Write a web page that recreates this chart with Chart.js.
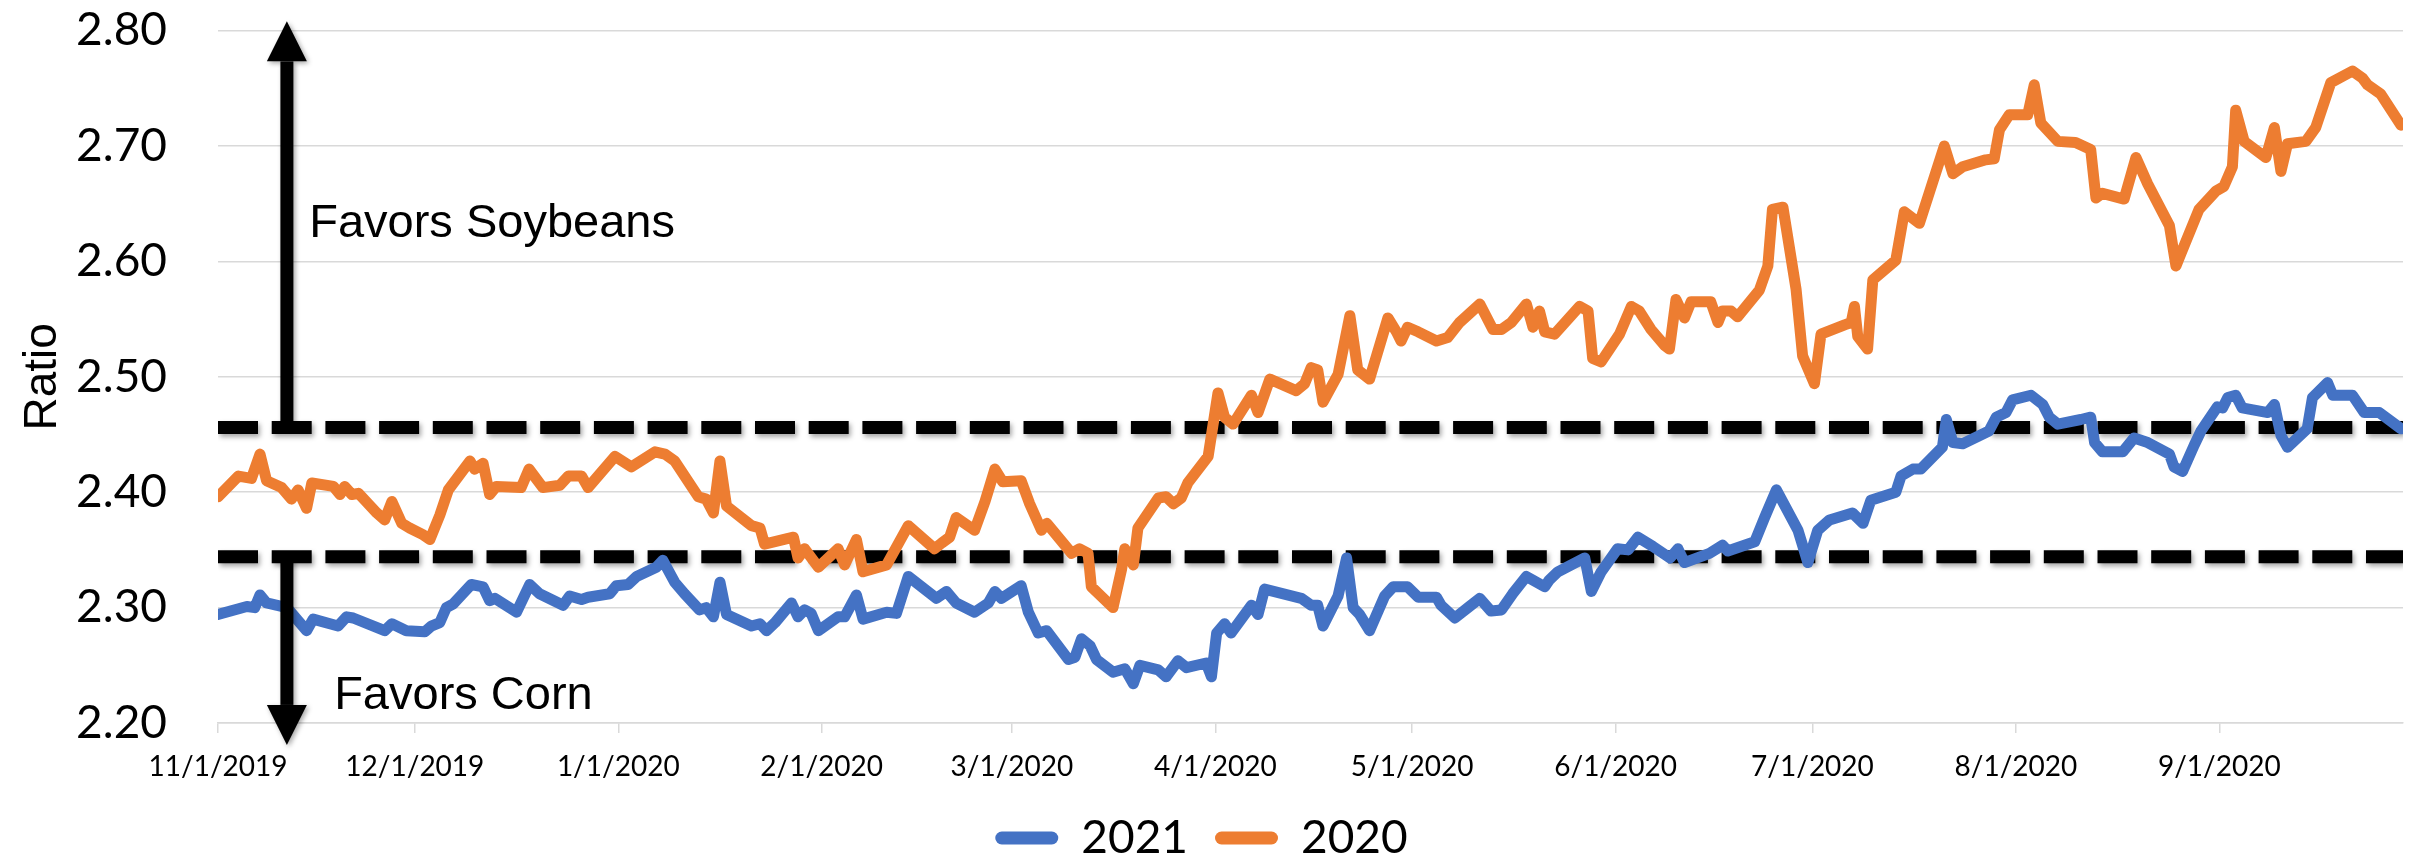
<!DOCTYPE html>
<html>
<head>
<meta charset="utf-8">
<script src="https://cdn.jsdelivr.net/npm/chart.js@4"></script>
<style>
  html, body { margin: 0; padding: 0; background: #fff; }
  #wrap { width: 2425px; height: 860px; }
</style>
</head>
<body>
<div id="wrap"><canvas id="chart" width="2425" height="860"></canvas></div>
<script>
// days counted from 11/1/2019
const monthDays = [0, 30, 61, 92, 121, 152, 182, 213, 243, 274, 305];
const monthLabels = ["11/1/2019", "12/1/2019", "1/1/2020", "2/1/2020", "3/1/2020", "4/1/2020",
    "5/1/2020", "6/1/2020", "7/1/2020", "8/1/2020", "9/1/2020"];

const days2021 = [0, 4.4, 5.6, 6.4, 7.4, 10.5, 12.0, 13.5, 14.5, 18.3, 19.6, 20.6, 25.4, 26.5, 28.7,
    31.5, 32.5, 33.8, 34.8, 35.8, 38.6, 40.4, 41.4, 42.2, 45.5, 47.5, 49.0, 52.6, 53.6, 55.4, 56.4,
    59.7, 60.7, 62.5, 63.8, 66.8, 67.8, 69.6, 71.1, 73.4, 74.4, 75.5, 76.5, 77.5, 81.3, 82.6, 83.6,
    84.9, 87.4, 88.4, 89.4, 90.4, 91.5, 94.5, 95.5, 97.3, 98.3, 101.9, 103.4, 105.2, 109.5, 111.0,
    112.5, 115.3, 117.4, 118.4, 119.4, 122.4, 123.5, 125.0, 126.3, 129.6, 130.6, 131.6, 132.9, 133.9,
    136.4, 138.2, 139.5, 140.5, 143.3, 144.5, 146.3, 147.6, 150.6, 151.4, 152.2, 153.4, 154.4, 157.5,
    158.5, 159.5, 165.1, 166.6, 167.6, 168.4, 170.7, 172.0, 173.0, 174.0, 175.5, 177.8, 179.1, 181.3,
    182.9, 185.7, 186.4, 188.5, 190.5, 192.3, 194.0, 195.6, 197.3, 199.4, 202.2, 202.9, 204.2, 208.3,
    209.3, 210.8, 213.3, 214.9, 216.4, 218.7, 221.3, 222.5, 223.5, 227.3, 229.3, 230.1, 234.2, 235.7,
    237.5, 240.8, 242.3, 243.8, 245.6, 249.1, 250.7, 251.9, 255.7, 256.5, 258.3, 259.5, 262.8, 263.4,
    264.4, 265.9, 269.9, 271.0, 272.5, 273.5, 276.3, 278.1, 279.1, 280.4, 283.9, 285.4, 286.0, 287.2,
    290.3, 292.0, 294.1, 297.4, 298.1, 299.4, 301.2, 302.2, 304.7, 305.5, 306.3, 307.5, 308.5, 312.4,
    313.4, 314.4, 315.4, 318.4, 319.2, 321.5, 322.3, 325.3, 327.1, 329.4, 332.7];
const ratio2021 = [2.294, 2.301, 2.300, 2.311, 2.304, 2.300, 2.290, 2.280, 2.290, 2.284, 2.292, 2.291,
    2.280, 2.286, 2.280, 2.279, 2.284, 2.287, 2.300, 2.303, 2.320, 2.318, 2.306, 2.308, 2.296, 2.320,
    2.312, 2.302, 2.310, 2.307, 2.309, 2.312, 2.319, 2.320, 2.327, 2.335, 2.341, 2.322, 2.312, 2.298,
    2.300, 2.292, 2.322, 2.294, 2.284, 2.286, 2.280, 2.287, 2.304, 2.292, 2.298, 2.295, 2.280, 2.292,
    2.292, 2.311, 2.290, 2.296, 2.295, 2.327, 2.308, 2.314, 2.304, 2.296, 2.304, 2.314, 2.308, 2.319,
    2.296, 2.278, 2.280, 2.255, 2.257, 2.273, 2.267, 2.255, 2.244, 2.247, 2.234, 2.250, 2.246, 2.240,
    2.254, 2.248, 2.252, 2.240, 2.278, 2.286, 2.278, 2.302, 2.294, 2.316, 2.308, 2.302, 2.302, 2.284,
    2.310, 2.343, 2.300, 2.294, 2.280, 2.310, 2.318, 2.318, 2.309, 2.309, 2.302, 2.291, 2.300, 2.308,
    2.297, 2.298, 2.312, 2.327, 2.318, 2.324, 2.331, 2.343, 2.314, 2.331, 2.351, 2.350, 2.361, 2.353,
    2.343, 2.351, 2.339, 2.347, 2.354, 2.349, 2.357, 2.378, 2.402, 2.367, 2.339, 2.367, 2.376, 2.382,
    2.373, 2.393, 2.400, 2.414, 2.420, 2.420, 2.439, 2.463, 2.443, 2.442, 2.453, 2.465, 2.469, 2.480,
    2.484, 2.476, 2.465, 2.459, 2.463, 2.465, 2.443, 2.435, 2.435, 2.447, 2.443, 2.433, 2.422, 2.418,
    2.441, 2.453, 2.474, 2.473, 2.482, 2.484, 2.473, 2.469, 2.476, 2.449, 2.439, 2.455, 2.482, 2.495,
    2.484, 2.484, 2.469, 2.469, 2.455];

const days2020 = [0, 3.1, 5.1, 6.4, 7.4, 9.7, 11.2, 12.2, 13.5, 14.3, 17.6, 18.6, 19.3, 20.4, 21.4,
    24.2, 25.4, 26.5, 28.0, 29.2, 31.3, 32.3, 33.8, 35.1, 38.4, 39.1, 40.4, 41.4, 42.4, 46.2, 47.4,
    49.5, 52.1, 53.4, 55.4, 56.4, 60.5, 63.0, 66.6, 68.1, 69.6, 73.2, 74.4, 75.5, 76.5, 77.5, 81.3,
    82.6, 83.3, 87.7, 88.4, 89.4, 91.5, 94.5, 95.5, 97.3, 98.3, 101.9, 105.2, 109.2, 110.3, 111.5,
    112.5, 115.3, 116.9, 118.4, 119.6, 122.4, 123.7, 125.5, 126.3, 130.1, 131.3, 132.6, 133.1, 136.4,
    137.7, 138.2, 139.5, 140.2, 143.3, 144.5, 145.6, 146.8, 147.8, 150.9, 152.4, 153.4, 154.7, 157.5,
    158.5, 160.3, 164.3, 165.6, 166.6, 167.6, 168.4, 170.7, 172.5, 173.7, 175.5, 178.3, 179.6, 180.3,
    181.3, 182.9, 185.7, 187.4, 189.2, 192.3, 194.3, 195.6, 197.1, 199.4, 200.4, 201.4, 202.2, 203.7,
    207.5, 208.8, 209.5, 210.8, 213.6, 215.4, 216.6, 218.4, 220.5, 221.2, 222.2, 223.5, 224.5, 227.5,
    228.6, 229.3, 230.6, 231.6, 234.9, 236.2, 236.9, 238.5, 240.5, 241.5, 243.3, 244.3, 247.9, 248.9,
    249.4, 249.9, 251.4, 252.2, 255.7, 257.0, 259.3, 263.1, 264.4, 265.9, 269.4, 270.7, 271.5, 273.0,
    275.8, 276.8, 277.8, 280.4, 283.1, 285.4, 286.2, 287.2, 290.5, 292.3, 294.1, 297.4, 298.4, 299.1,
    301.9, 304.5, 305.7, 307.0, 307.5, 308.8, 312.1, 313.4, 314.4, 315.4, 318.2, 319.7, 322.0, 325.3,
    326.8, 327.6, 329.6, 332.7];
const ratio2020 = [2.396, 2.414, 2.412, 2.433, 2.410, 2.404, 2.394, 2.402, 2.386, 2.408, 2.405, 2.398,
    2.405, 2.398, 2.399, 2.382, 2.376, 2.392, 2.373, 2.369, 2.363, 2.359, 2.380, 2.402, 2.427, 2.420,
    2.425, 2.398, 2.405, 2.404, 2.420, 2.404, 2.406, 2.414, 2.414, 2.404, 2.431, 2.422, 2.435, 2.433,
    2.427, 2.396, 2.394, 2.382, 2.427, 2.388, 2.371, 2.369, 2.355, 2.361, 2.343, 2.351, 2.335, 2.351,
    2.337, 2.359, 2.331, 2.337, 2.371, 2.351, 2.356, 2.361, 2.378, 2.367, 2.392, 2.420, 2.409, 2.410,
    2.390, 2.367, 2.373, 2.347, 2.351, 2.347, 2.318, 2.300, 2.333, 2.351, 2.337, 2.369, 2.395, 2.396,
    2.390, 2.395, 2.408, 2.431, 2.486, 2.465, 2.459, 2.484, 2.469, 2.498, 2.488, 2.494, 2.508, 2.506,
    2.478, 2.502, 2.553, 2.506, 2.498, 2.551, 2.539, 2.531, 2.543, 2.539, 2.531, 2.534, 2.547, 2.563,
    2.541, 2.541, 2.547, 2.563, 2.543, 2.557, 2.539, 2.537, 2.561, 2.557, 2.516, 2.513, 2.537, 2.561,
    2.557, 2.541, 2.527, 2.524, 2.567, 2.551, 2.565, 2.565, 2.547, 2.557, 2.557, 2.552, 2.575, 2.596,
    2.645, 2.647, 2.576, 2.518, 2.494, 2.537, 2.545, 2.547, 2.561, 2.535, 2.524, 2.584, 2.601, 2.643,
    2.633, 2.700, 2.676, 2.682, 2.688, 2.689, 2.714, 2.727, 2.727, 2.753, 2.720, 2.704, 2.703, 2.697,
    2.655, 2.659, 2.654, 2.690, 2.667, 2.631, 2.596, 2.606, 2.645, 2.661, 2.665, 2.682, 2.731, 2.704,
    2.690, 2.716, 2.678, 2.702, 2.704, 2.716, 2.755, 2.765, 2.759, 2.753, 2.745, 2.718];

// threshold lines and the arrows / notes that go with them
const guideLevels = [2.456, 2.344];
const arrowDay = 10.5;
const arrowTips = [2.808, 2.181];
const noteTexts = ["Favors Soybeans", "Favors Corn"];
const noteDays = [13.9, 17.7];
const noteValues = [2.621, 2.212];

const blue = "#4472C4";
const orange = "#ED7D31";

Chart.defaults.font.family = "Lato";
Chart.defaults.color = "#000";

function toPoints(xs, ys) {
    return xs.map((d, i) => ({ x: d, y: ys[i] }));
}

const datasets = [
    { label: "2021", data: toPoints(days2021, ratio2021), borderColor: blue, backgroundColor: blue, order: 2 },
    { label: "2020", data: toPoints(days2020, ratio2020), borderColor: orange, backgroundColor: orange, order: 1 },
];
guideLevels.forEach(level => {
    datasets.push({
        label: "guide",
        isGuide: true,
        data: [{ x: 0, y: level }, { x: 333, y: level }],
        borderColor: "#000",
        borderWidth: 13,
        borderDash: [40, 13.7],
        borderCapStyle: "butt",
        order: 3,
    });
});

function drawArrow(ctx, px, yBase, yTip) {
    const dir = yTip > yBase ? 1 : -1;
    const head = 40;
    const headBase = yTip - dir * head;
    ctx.fillRect(px - 6.5, Math.min(yBase, headBase), 13, Math.abs(headBase - yBase));
    ctx.beginPath();
    ctx.moveTo(px, yTip);
    ctx.lineTo(px - 20, headBase);
    ctx.lineTo(px + 20, headBase);
    ctx.closePath();
    ctx.fill();
}

const annotate = {
    id: "annotate",
    beforeDatasetDraw(chart, args) {
        if (!chart.data.datasets[args.index].isGuide) return;
        const ctx = chart.ctx;
        ctx.save();
        ctx.shadowColor = "rgba(0,0,0,0.35)";
        ctx.shadowBlur = 5;
        ctx.shadowOffsetX = 2;
        ctx.shadowOffsetY = 3;
    },
    afterDatasetDraw(chart, args) {
        if (chart.data.datasets[args.index].isGuide) chart.ctx.restore();
    },
    afterDatasetsDraw(chart) {
        const { ctx, scales: { x, y } } = chart;
        const px = x.getPixelForValue(arrowDay);
        ctx.save();
        ctx.fillStyle = "#000";
        ctx.shadowColor = "rgba(0,0,0,0.35)";
        ctx.shadowBlur = 5;
        ctx.shadowOffsetX = 2;
        ctx.shadowOffsetY = 2;
        guideLevels.forEach((lvl, i) => {
            drawArrow(ctx, px, y.getPixelForValue(lvl), y.getPixelForValue(arrowTips[i]));
        });
        ctx.restore();

        ctx.save();
        ctx.fillStyle = "#000";
        ctx.font = '47px "Liberation Sans"';
        ctx.textBaseline = "alphabetic";
        ctx.textAlign = "left";
        noteTexts.forEach((t, i) => {
            ctx.fillText(t, x.getPixelForValue(noteDays[i]), y.getPixelForValue(noteValues[i]));
        });
        ctx.restore();
    }
};

new Chart(document.getElementById("chart"), {
    type: "line",
    data: { datasets },
    options: {
        responsive: false,
        animation: false,
        devicePixelRatio: 1,
        elements: {
            point: { radius: 0 },
            line: { borderWidth: 11, tension: 0, borderJoinStyle: "round", borderCapStyle: "round" },
        },
        layout: { padding: { top: 28, right: 22, left: 0, bottom: -11 } },
        scales: {
            x: {
                type: "linear",
                min: 0,
                max: 333,
                afterBuildTicks: (scale) => { scale.ticks = monthDays.map(v => ({ value: v })); },
                afterFit: (scale) => { scale.height = 65; },
                ticks: {
                    autoSkip: false,
                    maxRotation: 0,
                    padding: 17,
                    font: { size: 28 },
                    callback: (v) => monthLabels[monthDays.indexOf(v)],
                },
                grid: { drawOnChartArea: false, drawTicks: true, tickLength: 10, color: "#d9d9d9", lineWidth: 1.5 },
                border: { display: true, color: "#d9d9d9", width: 1.5 },
            },
            y: {
                min: 2.2,
                max: 2.8,
                afterFit: (scale) => { scale.width = 218; },
                ticks: {
                    stepSize: 0.1,
                    padding: 3,
                    font: { size: 46 },
                    callback: (v) => v.toFixed(2),
                },
                grid: { color: "#d9d9d9", lineWidth: 1.5, drawTicks: true, tickLength: 48, tickColor: "rgba(0,0,0,0)" },
                border: { display: false },
                title: {
                    display: true,
                    text: "Ratio",
                    font: { family: "Liberation Sans", size: 46 },
                    padding: { top: 16, bottom: 0 },
                },
            },
        },
        plugins: {
            tooltip: { enabled: false },
            legend: {
                position: "bottom",
                align: "center",
                labels: {
                    boxWidth: 63,
                    boxHeight: 13,
                    useBorderRadius: true,
                    borderRadius: 6.5,
                    padding: 27,
                    font: { size: 46 },
                    sort: (a, b) => a.datasetIndex - b.datasetIndex,
                    generateLabels(chart) {
                        const items = Chart.defaults.plugins.legend.labels.generateLabels(chart);
                        return items
                            .filter(it => !chart.data.datasets[it.datasetIndex].isGuide)
                            .map(it => Object.assign(it, { lineWidth: 0, fillStyle: chart.data.datasets[it.datasetIndex].borderColor }));
                    },
                },
            },
        },
    },
    plugins: [annotate],
});
</script>
</body>
</html>
